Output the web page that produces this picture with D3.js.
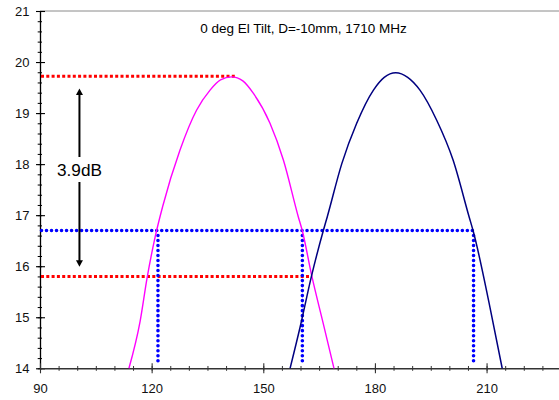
<!DOCTYPE html>
<html><head><meta charset="utf-8">
<script src="https://cdn.jsdelivr.net/npm/d3@7"></script>
<style>
html,body{margin:0;padding:0;background:#fff;}
svg{display:block;font-family:"Liberation Sans",Arial,sans-serif;}
</style></head>
<body><svg id="c" width="559" height="400"></svg>
<script>
// ---- data ----
const title = "0 deg El Tilt, D=-10mm, 1710 MHz";
const xTickValues = [90, 120, 150, 180, 210];
const yTickValues = [14, 15, 16, 17, 18, 19, 20, 21];
// beam 1 (magenta)
const beam1X = [113.9, 116.9, 118.8, 120.9, 123.0, 127.6, 132.1, 135.7, 138.5, 141.5, 144.5, 147.3, 151.8, 155.4, 159.4, 160.5, 163.0, 166.1, 169.0];
const beam1Y = [14.0, 14.92, 15.78, 16.56, 17.18, 18.27, 19.06, 19.45, 19.65, 19.71, 19.63, 19.39, 18.80, 18.08, 16.97, 16.69, 15.82, 14.88, 14.0];
// beam 2 (navy)
const beam2X = [157.2, 159.9, 163.0, 166.1, 167.2, 171.1, 175.1, 179.6, 182.5, 185.6, 188.8, 192.1, 196.6, 201.0, 205.3, 206.4, 210.9, 214.2];
const beam2Y = [14.0, 14.81, 15.82, 16.69, 16.97, 18.01, 18.80, 19.45, 19.70, 19.79, 19.70, 19.45, 18.86, 18.08, 16.97, 16.69, 15.20, 14.0];
// reference levels
const redLevels = [19.72, 15.8];
const redEnds = [142.4, 162.9];
const blueLevel = 16.7;
const blueEnd = 206.5;
const blueVerticals = [121.7, 160.5, 206.5];
const blueVertBottom = 14.1;
const arrowX = 100.6;
const arrowTop = 19.48, arrowBottom = 15.99;
const arrowLabel = "3.9dB";

// ---- chart ----
const svg = d3.select("#c");
const x = d3.scaleLinear().domain([90, 230]).range([40, 561]);
const y = d3.scaleLinear().domain([14, 21]).range([368.3, 11]);

// top border
svg.append("line").attr("x1", x(90)).attr("x2", 559).attr("y1", y(21)).attr("y2", y(21))
  .attr("stroke", "#8a8a8a").attr("stroke-width", 1);

// y minor ticks
const yMinor = d3.range(14, 21.001, 0.2);
const gyMin = svg.append("g").attr("transform", `translate(${x(90)},0)`)
  .call(d3.axisLeft(y).tickValues(yMinor).tickSize(0).tickFormat(""));
gyMin.select(".domain").remove();
gyMin.selectAll(".tick line").attr("x1", -2.3).attr("x2", 2).attr("stroke", "#000");

// x minor ticks
const xMinor = d3.range(90, 230.001, 5);
const gxMin = svg.append("g").attr("transform", `translate(0,${y(14)})`)
  .call(d3.axisBottom(x).tickValues(xMinor).tickSize(0).tickFormat(""));
gxMin.select(".domain").remove();
gxMin.selectAll(".tick line").attr("y1", -2.3).attr("y2", 2.5).attr("stroke", "#333");

// y axis
const gy = svg.append("g").attr("transform", `translate(${x(90)},0)`)
  .call(d3.axisLeft(y).tickValues(yTickValues).tickSize(0).tickPadding(10.5).tickFormat(d3.format("d")));
gy.select(".domain").attr("stroke", "#000").attr("stroke-width", 1.3);
gy.selectAll(".tick line").attr("x1", -4).attr("x2", 5).attr("stroke", "#000").attr("stroke-width", 1.1);
gy.selectAll(".tick text").attr("font-size", 13).attr("fill", "#111")
  .style("font-family", '"Liberation Sans",Arial,sans-serif');

// x axis
const gx = svg.append("g").attr("transform", `translate(0,${y(14)})`)
  .call(d3.axisBottom(x).tickValues(xTickValues).tickSize(0).tickPadding(15.8).tickFormat(d3.format("d")));
gx.select(".domain").attr("stroke", "#333").attr("stroke-width", 1.4);
gx.selectAll(".tick line").attr("y1", -5).attr("y2", 5).attr("stroke", "#333").attr("stroke-width", 1.1);
gx.selectAll(".tick text").attr("font-size", 13).attr("fill", "#111")
  .style("font-family", '"Liberation Sans",Arial,sans-serif');

// reference dotted lines
const refs = svg.append("g");
redLevels.forEach((lv, i) => {
  refs.append("line").attr("x1", x(90) + 1).attr("x2", x(redEnds[i])).attr("y1", y(lv)).attr("y2", y(lv))
    .attr("stroke", "#ff0000").attr("stroke-width", 3).attr("stroke-dasharray", "3,2.3");
});
refs.append("line").attr("x1", x(90) + 1.5).attr("x2", x(blueEnd)).attr("y1", y(blueLevel)).attr("y2", y(blueLevel))
  .attr("stroke", "#0000ff").attr("stroke-width", 3.6).attr("stroke-linecap", "round").attr("stroke-dasharray", "0.01,5");
blueVerticals.forEach(v => {
  refs.append("line").attr("x1", x(v)).attr("x2", x(v)).attr("y1", y(blueLevel) + 5).attr("y2", y(blueVertBottom))
    .attr("stroke", "#0000ff").attr("stroke-width", 3.6).attr("stroke-linecap", "round").attr("stroke-dasharray", "0.01,5");
});

// beams
const line = d3.line().x(d => x(d[0])).y(d => y(d[1])).curve(d3.curveMonotoneX);
svg.append("path").attr("d", line(d3.zip(beam1X, beam1Y))).attr("fill", "none")
  .attr("stroke", "#ff00ff").attr("stroke-width", 1.4);
svg.append("path").attr("d", line(d3.zip(beam2X, beam2Y))).attr("fill", "none")
  .attr("stroke", "#000080").attr("stroke-width", 1.5);

// arrow
const ax = x(arrowX);
const yt = y(arrowTop), yb = y(arrowBottom);
const labelY = 176;
const ag = svg.append("g");
ag.append("line").attr("x1", ax).attr("x2", ax).attr("y1", yt + 5).attr("y2", 157)
  .attr("stroke", "#000").attr("stroke-width", 2);
ag.append("line").attr("x1", ax).attr("x2", ax).attr("y1", 182).attr("y2", yb - 5)
  .attr("stroke", "#000").attr("stroke-width", 2);
ag.append("path").attr("d", `M${ax},${yt}L${ax - 3.5},${yt + 6.5}L${ax + 3.5},${yt + 6.5}Z`).attr("fill", "#000");
ag.append("path").attr("d", `M${ax},${yb}L${ax - 3.5},${yb - 6.5}L${ax + 3.5},${yb - 6.5}Z`).attr("fill", "#000");
ag.append("text").attr("x", ax).attr("y", labelY).attr("text-anchor", "middle")
  .attr("font-size", 17.2).attr("fill", "#000").text(arrowLabel);

// title
svg.append("text").attr("x", 303.5).attr("y", 33).attr("text-anchor", "middle")
  .attr("font-size", 13.5).attr("fill", "#000").text(title);
</script></body></html>
